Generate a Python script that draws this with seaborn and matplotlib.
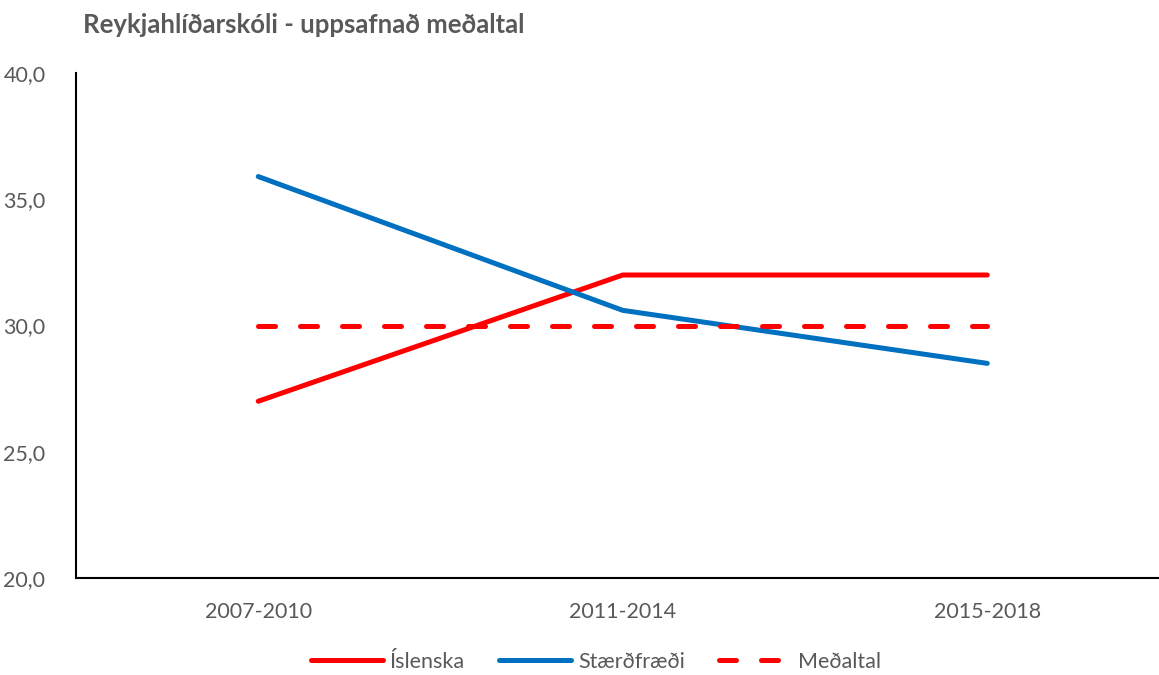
import matplotlib
matplotlib.use("Agg")
import matplotlib.pyplot as plt
import seaborn as sns
import pandas as pd

categories = ["2007-2010", "2011-2014", "2015-2018"]
islenska = [27.0, 32.0, 32.0]
staerdfraedi = [35.9, 30.6, 28.5]
medaltal = [30.0, 30.0, 30.0]
series_names = ["Íslenska", "Stærðfræði", "Meðaltal"]
yticks = [20, 25, 30, 35, 40]

rows = []
for name, vals in zip(series_names, [islenska, staerdfraedi, medaltal]):
    for i, (c, v) in enumerate(zip(categories, vals)):
        rows.append({"x": i, "Tímabil": c, "Gildi": v, "Röð": name})
df = pd.DataFrame(rows)

sns.set_style("white")
plt.rcParams["font.family"] = ["Lato", "DejaVu Sans"]

fig = plt.figure(figsize=(11.59, 6.75), dpi=100)
ax = fig.add_axes([76/1159, 97/675, 1 - 76/1159, 505/675])

palette = {"Íslenska": "#FF0000", "Stærðfræði": "#0070C0", "Meðaltal": "#FF0000"}
dashes = {"Íslenska": "", "Stærðfræði": "", "Meðaltal": (3.4, 5.0)}
sns.lineplot(data=df, x="x", y="Gildi", hue="Röð", style="Röð",
             palette=palette, dashes=dashes, hue_order=series_names,
             style_order=series_names, linewidth=3.6, ax=ax, legend=False)
for ln in ax.get_lines():
    ln.set_solid_capstyle("round")
    ln.set_dash_capstyle("round")

ax.set_xlim(-0.5, -0.5 + 1083/364.5)
ax.set_ylim(20, 40)
ax.set_xticks(range(len(categories)))
ax.set_xticklabels(categories)
ax.set_yticks(yticks)
ax.set_yticklabels([f"{v:.1f}".replace(".", ",") for v in yticks])
ax.tick_params(axis="both", length=0, labelsize=15.5, colors="#595959")
ax.tick_params(axis="x", pad=17)
ax.tick_params(axis="y", pad=22)
ax.set_xlabel("")
ax.set_ylabel("")
for s in ["top", "right"]:
    ax.spines[s].set_visible(False)
for s in ["left", "bottom"]:
    ax.spines[s].set_color("black")
    ax.spines[s].set_linewidth(1.5)

fig.text(83/1159, 1 - 25/675, "Reykjahlíðarskóli - uppsafnað meðaltal",
         fontsize=18.5, fontweight="bold", color="#595959", va="center", ha="left")

from matplotlib.lines import Line2D
handles = [
    Line2D([], [], color="#FF0000", lw=3.6, solid_capstyle="round"),
    Line2D([], [], color="#0070C0", lw=3.6, solid_capstyle="round"),
    Line2D([], [], color="#FF0000", lw=3.6, dashes=(3.4, 5.0), dash_capstyle="round"),
]
leg = fig.legend(handles, series_names, loc="center", bbox_to_anchor=(596/1159, 1 - 662/675),
                 ncol=3, frameon=False, fontsize=15.5, handlelength=3.35, handletextpad=0.3,
                 columnspacing=1.6)
for t in leg.get_texts():
    t.set_color("#595959")

fig.savefig("out.png", dpi=100)
